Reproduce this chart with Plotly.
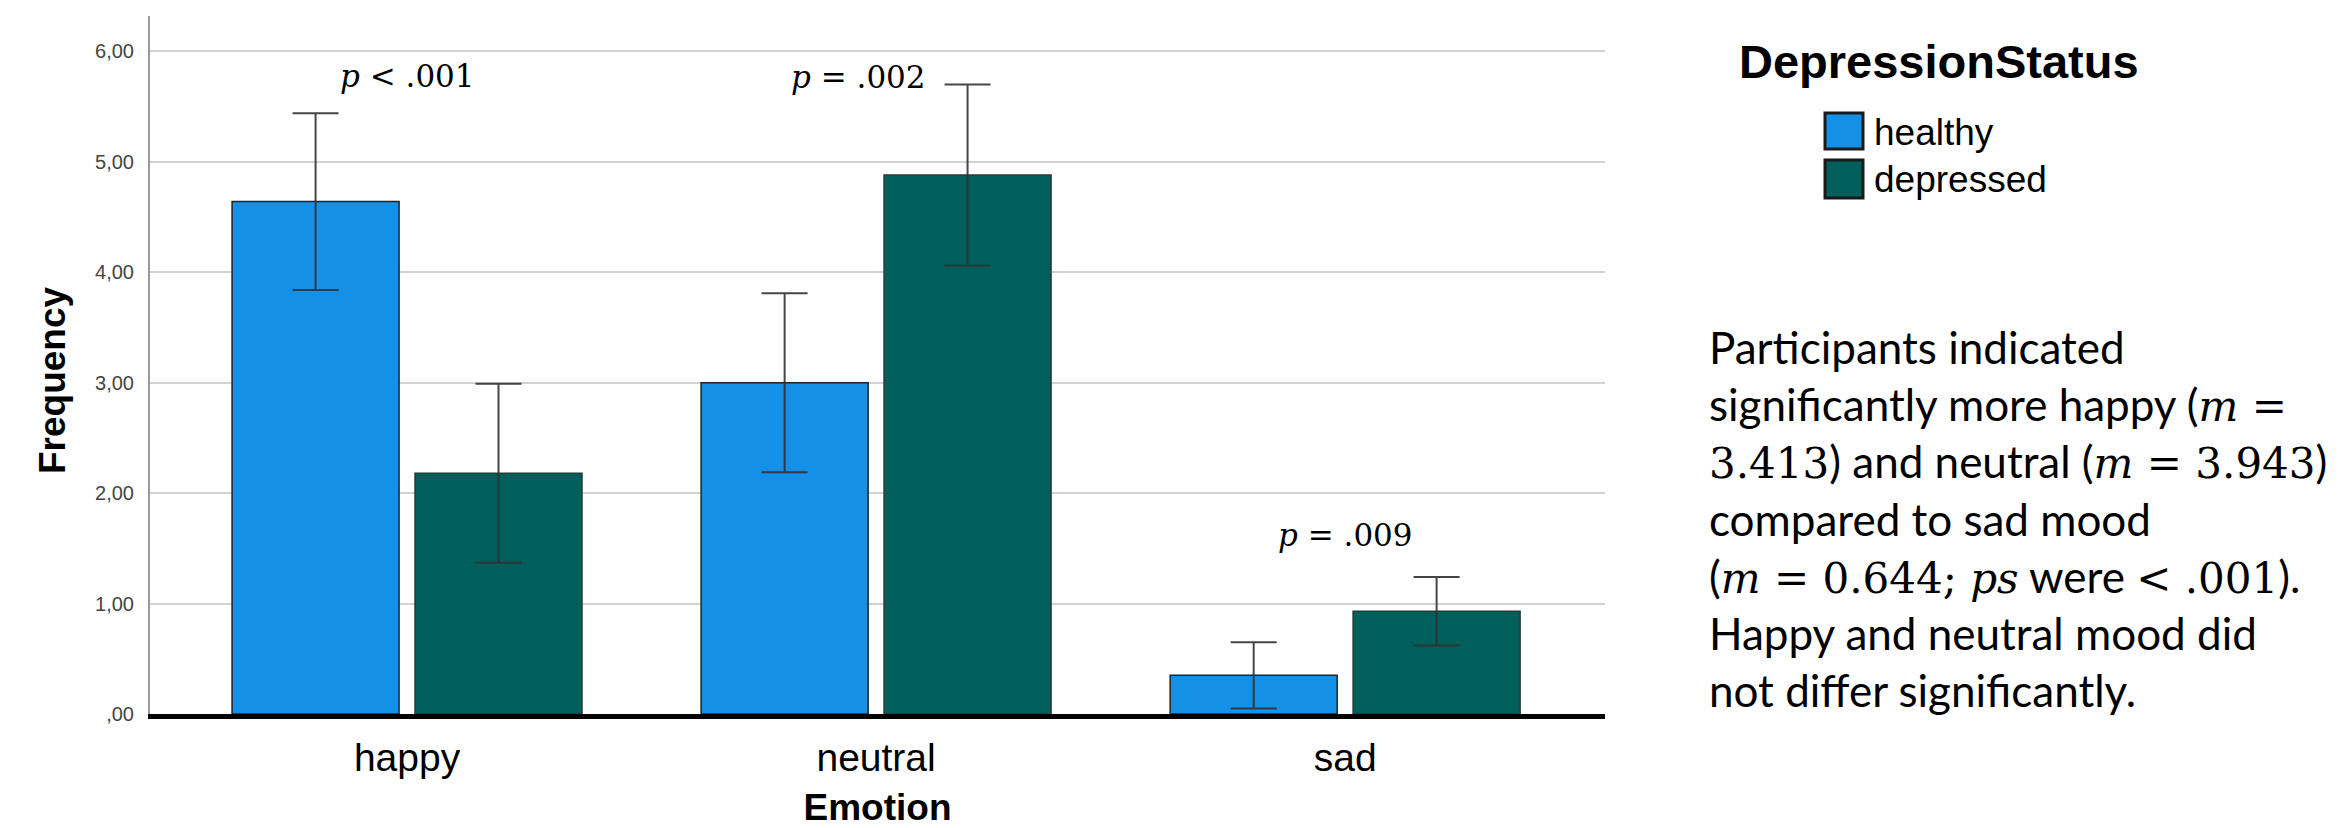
import plotly.graph_objects as go

# ---------------- data ----------------
emotions = ["happy", "neutral", "sad"]
groups = ["healthy", "depressed"]
healthy_mean = [4.64, 3.00, 0.35]
healthy_err = [0.80, 0.81, 0.30]
depressed_mean = [2.18, 4.88, 0.93]
depressed_err = [0.81, 0.82, 0.31]
y_tick_vals = [0, 1, 2, 3, 4, 5, 6]
y_tick_labels = [",00", "1,00", "2,00", "3,00", "4,00", "5,00", "6,00"]
p_labels = ["<i>p</i> &lt; .001", "<i>p</i> = .002", "<i>p</i> = .009"]
p_label_y = [5.78, 5.77, 1.62]
p_label_xshift = [0, -18, 0]

colors = {"healthy": "#1490E6", "depressed": "#005E5B"}
edge = {"healthy": "#222222", "depressed": "#2a3a3a"}

# page body has an 8px margin, so the figure is made 8px smaller
OFF = 8
W, H = 2341 - OFF, 828 - OFF
L, R, T, B = 150 - OFF, 736, 16 - OFF, 114
PW, PH = W - L - R, H - T - B
X0, Y0 = 150, 714  # plot-area left / bottom in reference pixels


def px(x):
    return (x - X0) / PW


def py(y):
    return (Y0 - y) / PH


fig = go.Figure()
for name, means, errs in [("healthy", healthy_mean, healthy_err),
                          ("depressed", depressed_mean, depressed_err)]:
    fig.add_trace(go.Bar(
        x=emotions, y=means, name=name,
        marker=dict(color=colors[name], line=dict(color=edge[name], width=1.5)),
        error_y=dict(type="data", array=errs, visible=True,
                     color="rgba(50,50,50,0.9)", thickness=2, width=23),
        showlegend=False,
    ))

annotations = []
for e, t, yv, xs in zip(emotions, p_labels, p_label_y, p_label_xshift):
    annotations.append(dict(
        x=e, y=yv, xref="x", yref="y", text=t, showarrow=False,
        xshift=xs, yanchor="middle",
        font=dict(family="DejaVu Serif", size=31, color="#000"),
    ))

# y axis title
annotations.append(dict(
    x=px(52), y=py(380), xref="paper", yref="paper", xanchor="center", yanchor="middle",
    text="<b>Frequency</b>", textangle=-90, showarrow=False,
    font=dict(family="Liberation Sans", size=37, color="#000"),
))

# legend (drawn manually to match the swatch size)
annotations.append(dict(
    x=px(1737), y=py(62), xref="paper", yref="paper", xanchor="left", yanchor="middle",
    text="<b>DepressionStatus</b>", showarrow=False,
    font=dict(family="Liberation Sans", size=47, color="#000"),
))
leg_y = [132, 180]
sw_y = [(113, 149), (160, 198)]
shapes = []
for g, ly, (y0, y1) in zip(groups, leg_y, sw_y):
    shapes.append(dict(type="rect", xref="paper", yref="paper",
                       x0=px(1825), x1=px(1863), y0=py(y1), y1=py(y0),
                       fillcolor=colors[g], line=dict(color="#1a1a1a", width=3)))
    annotations.append(dict(
        x=px(1872), y=py(ly), xref="paper", yref="paper", xanchor="left", yanchor="middle",
        text=g, showarrow=False,
        font=dict(family="Liberation Sans", size=37, color="#000"),
    ))

M = "<span style='font-family:DejaVu Serif;font-size:42px'>"
para = ("Participants indicated<br>"
        "significantly more happy (" + M + "<i>m</i> =</span><br>"
        + M + "3.413</span>) and neutral (" + M + "<i>m</i> = 3.943</span>)<br>"
        "compared to sad mood<br>"
        "(" + M + "<i>m</i> = 0.644; <i>ps</i></span> were " + M + "&lt; .001</span>).<br>"
        "Happy and neutral mood did<br>"
        "not differ significantly.")
annotations.append(dict(
    x=px(1707), y=py(319), xref="paper", yref="paper", xanchor="left", yanchor="top",
    align="left", text=para, showarrow=False,
    font=dict(family="Lato", size=44, color="#000"),
))

fig.update_layout(
    width=W, height=H, autosize=False,
    margin=dict(l=L, r=R, t=T, b=B, pad=0, autoexpand=False),
    paper_bgcolor="white", plot_bgcolor="white",
    barmode="group", bargap=0.22, bargroupgap=0.087,
    showlegend=False,
    annotations=annotations, shapes=shapes,
    xaxis=dict(
        type="category", categoryorder="array", categoryarray=emotions,
        range=[-0.548, 2.554], automargin=False,
        showline=True, linecolor="#000", linewidth=5,
        ticks="", showgrid=False, zeroline=False,
        tickfont=dict(family="Liberation Sans", size=39, color="#000"),
        ticklabelstandoff=5,
        title=dict(text="<b>Emotion</b>", standoff=36,
                   font=dict(family="Liberation Sans", size=37, color="#000")),
    ),
    yaxis=dict(
        range=[0, 6.32], tickvals=y_tick_vals, ticktext=y_tick_labels,
        automargin=False,
        showgrid=True, gridcolor="#d2d2d2", gridwidth=2,
        showline=True, linecolor="#9a9a9a", linewidth=2,
        zeroline=False, ticks="",
        tickfont=dict(family="Liberation Sans", size=20, color="#444"),
        ticklabelstandoff=10,
    ),
)

fig.write_html("out.html")
